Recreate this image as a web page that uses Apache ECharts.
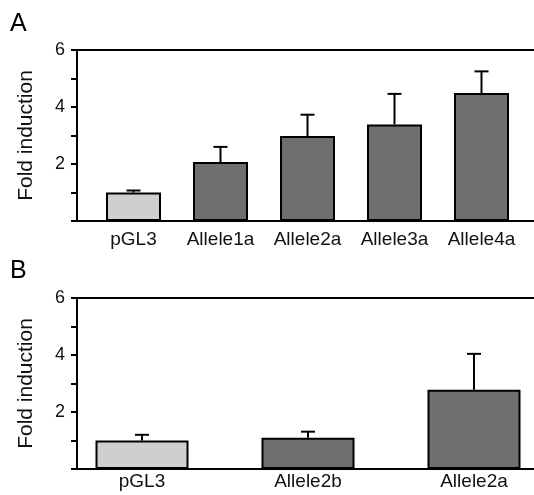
<!DOCTYPE html>
<html>
<head>
<meta charset="utf-8">
<script src="https://cdn.jsdelivr.net/npm/echarts@6/dist/echarts.min.js"></script>
<style>
html,body{margin:0;padding:0;background:#fff;}
#chart{width:534px;height:495px;}
</style>
</head>
<body>
<div id="chart"></div>
<script>
// panel A
var catsA = ['pGL3', 'Allele1a', 'Allele2a', 'Allele3a', 'Allele4a'];
var valsA = [1.0, 2.07, 2.98, 3.39, 4.49];
var errA = [0.07, 0.53, 0.75, 1.07, 0.76];
// panel B
var catsB = ['pGL3', 'Allele2b', 'Allele2a'];
var valsB = [1.0, 1.1, 2.78];
var errB = [0.2, 0.21, 1.26];

var light = '#cfcfcf', dark = '#6f6f6f';
var font = '"Liberation Sans", Arial, sans-serif';

function barData(cats, vals) {
    return vals.map(function (v, i) {
        return {value: v, itemStyle: {color: i === 0 ? light : dark}};
    });
}
function errData(vals, errs) {
    return vals.map(function (v, i) { return [i, v, errs[i]]; });
}
function renderErr(params, api) {
    var x = api.value(0), v = api.value(1), e = api.value(2);
    var p0 = api.coord([x, v]);
    var p1 = api.coord([x, v + e]);
    var st = {stroke: '#000', lineWidth: 2};
    return {
        type: 'group',
        children: [
            {type: 'line', shape: {x1: p0[0], y1: p0[1], x2: p1[0], y2: p1[1]}, style: st},
            {type: 'line', shape: {x1: p1[0] - 7, y1: p1[1], x2: p1[0] + 7, y2: p1[1]}, style: st}
        ]
    };
}
function frameX(grid, pos) {
    return {
        gridIndex: grid, type: 'value', position: pos, min: 0, max: 1,
        axisLine: {show: true, onZero: false, lineStyle: {color: '#000', width: 2}},
        axisTick: {show: false}, axisLabel: {show: false}, splitLine: {show: false}
    };
}
function catX(grid, cats, margin, gap) {
    return {
        gridIndex: grid, type: 'category', data: cats, boundaryGap: gap,
        axisLine: {show: false}, axisTick: {show: false}, splitLine: {show: false},
        axisLabel: {margin: margin, fontSize: 19, color: '#111', fontFamily: font, interval: 0}
    };
}
function frameY(grid) {
    return {
        gridIndex: grid, type: 'value', min: 0, max: 6, interval: 1,
        name: 'Fold induction', nameLocation: 'middle', nameGap: 40,
        nameTextStyle: {fontSize: 21, color: '#111', fontFamily: font},
        axisLine: {show: true, lineStyle: {color: '#000', width: 2}},
        axisTick: {show: true, length: 6, lineStyle: {color: '#000', width: 2}},
        axisLabel: {margin: 12, fontSize: 18, color: '#111', fontFamily: font,
            formatter: function (v) { return (v > 0 && v % 2 === 0) ? String(v) : ''; }},
        splitLine: {show: false}
    };
}
function hiddenY(grid) {
    return {gridIndex: grid, type: 'value', min: 0, max: 6, show: false};
}

var option = {
    animation: false,
    backgroundColor: '#fff',
    graphic: [
        {type: 'text', left: 10, top: 12, style: {text: 'A', fill: '#000', font: '25px ' + font}},
        {type: 'text', left: 10, top: 259, style: {text: 'B', fill: '#000', font: '25px ' + font}}
    ],
    grid: [
        {left: 77, right: 0, top: 50, height: 171},
        {left: 90, width: 435, top: 50, height: 171},
        {left: 77, right: 0, top: 298, height: 171},
        {left: 142, width: 332, top: 298, height: 171}
    ],
    xAxis: [
        frameX(0, 'bottom'), frameX(0, 'top'), catX(1, catsA, 9, true),
        frameX(2, 'bottom'), frameX(2, 'top'), catX(3, catsB, 3, false)
    ],
    yAxis: [frameY(0), hiddenY(1), frameY(2), hiddenY(3)],
    series: [
        {type: 'bar', xAxisIndex: 2, yAxisIndex: 1, barWidth: 55,
            itemStyle: {borderColor: '#000', borderWidth: 2},
            data: barData(catsA, valsA)},
        {type: 'custom', xAxisIndex: 2, yAxisIndex: 1, renderItem: renderErr,
            encode: {x: 0, y: 1}, data: errData(valsA, errA), z: 3},
        {type: 'bar', xAxisIndex: 5, yAxisIndex: 3, barWidth: 93, clip: false,
            itemStyle: {borderColor: '#000', borderWidth: 2},
            data: barData(catsB, valsB)},
        {type: 'custom', xAxisIndex: 5, yAxisIndex: 3, renderItem: renderErr, clip: false,
            encode: {x: 0, y: 1}, data: errData(valsB, errB), z: 3}
    ]
};

var chart = echarts.init(document.getElementById('chart'));
chart.setOption(option);
</script>
</body>
</html>
